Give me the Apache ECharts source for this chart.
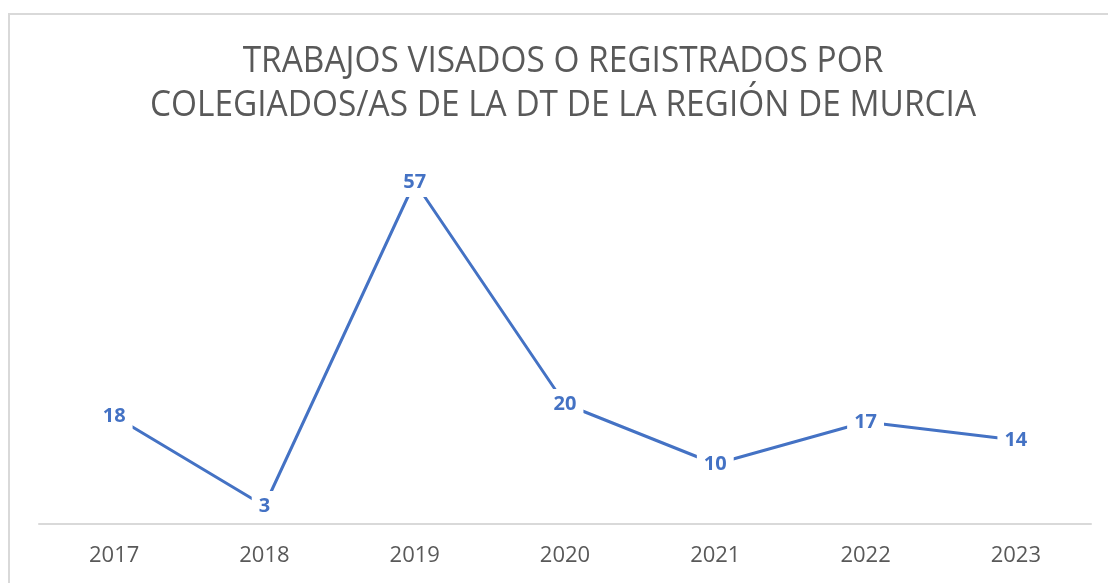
<!DOCTYPE html>
<html>
<head>
<meta charset="utf-8">
<script src="https://cdn.jsdelivr.net/npm/echarts@6/dist/echarts.min.js"></script>
<style>
  html, body { margin: 0; padding: 0; background: #fff; }
  #chart { width: 1108px; height: 583px; }
</style>
</head>
<body>
<div id="chart"></div>
<script>
// Trabajos visados o registrados por año
const years = ['2017', '2018', '2019', '2020', '2021', '2022', '2023'];
const trabajos = [18, 3, 57, 20, 10, 17, 14];
const titleLines = ['TRABAJOS VISADOS O REGISTRADOS POR', 'COLEGIADOS/AS DE LA DT DE LA REGIÓN DE MURCIA'];

const chart = echarts.init(document.getElementById('chart'), null, { renderer: 'canvas' });

chart.setOption({
  backgroundColor: '#ffffff',
  animation: false,
  graphic: [
    {
      // chart area frame
      type: 'rect',
      shape: { x: 9, y: 14, width: 1110, height: 580 },
      style: { fill: 'none', stroke: '#d9d9d9', lineWidth: 2 },
      silent: true,
      z: -1
    },
    {
      // two-line title, slightly condensed
      type: 'text',
      x: 563,
      y: 40,
      scaleX: 0.928,
      originX: 0,
      style: {
        text: titleLines.join('\n'),
        align: 'center',
        verticalAlign: 'top',
        fontFamily: '"Open Sans", sans-serif',
        fontSize: 36,
        lineHeight: 44,
        fill: '#595959'
      },
      silent: true
    }
  ],
  grid: { left: 39, right: 17, top: 164, bottom: 59 },
  xAxis: {
    type: 'category',
    data: years,
    boundaryGap: true,
    axisLine: { show: true, lineStyle: { color: '#d9d9d9', width: 2 } },
    axisTick: { show: false },
    axisLabel: {
      color: '#595959',
      fontSize: 22,
      fontFamily: '"Open Sans", sans-serif',
      margin: 21
    }
  },
  yAxis: {
    type: 'value',
    min: 0,
    max: 60,
    show: false,
    splitLine: { show: false }
  },
  series: [
    {
      type: 'line',
      data: trabajos,
      showSymbol: true,
      symbol: 'circle',
      symbolSize: 0.1,
      lineStyle: { color: '#4472c4', width: 3, cap: 'round' },
      itemStyle: { color: '#4472c4' },
      label: {
        show: true,
        position: 'inside',
        color: '#4472c4',
        fontWeight: 'bold',
        fontSize: 20,
        fontFamily: '"Open Sans", sans-serif',
        backgroundColor: '#ffffff',
        padding: [6, 7, 4, 7]
      },
      z: 3
    }
  ]
});
</script>
</body>
</html>
